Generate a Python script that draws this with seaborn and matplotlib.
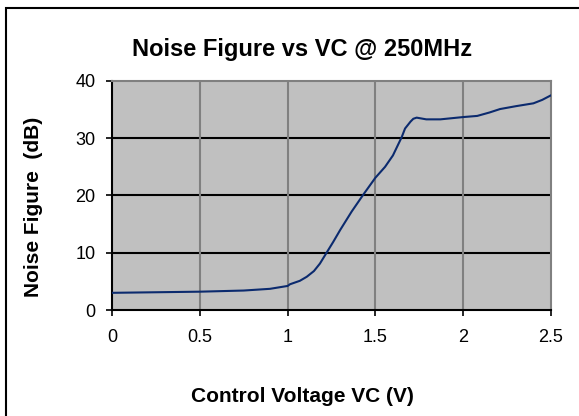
import matplotlib
matplotlib.use("Agg")
import matplotlib.pyplot as plt
import seaborn as sns
import pandas as pd
from matplotlib.patches import Rectangle

# Datos (VC en V, NF en dB)
vc = [0.0, 0.25, 0.5, 0.75, 0.9, 1.0, 1.014, 1.07, 1.109, 1.15, 1.184, 1.22,
      1.26, 1.30, 1.365, 1.43, 1.5, 1.555, 1.60, 1.65, 1.669, 1.70, 1.716,
      1.735, 1.79, 1.87, 2.0, 2.08, 2.15, 2.21, 2.3, 2.40, 2.45, 2.5]
nf = [3.0, 3.1, 3.2, 3.4, 3.7, 4.2, 4.5, 5.1, 5.8, 6.8, 8.1, 9.9,
      11.9, 14.0, 17.2, 20.1, 23.1, 25.0, 27.0, 30.2, 31.7, 32.9, 33.4,
      33.6, 33.3, 33.3, 33.7, 33.9, 34.5, 35.1, 35.6, 36.1, 36.7, 37.5]
x_ticks = [0, 0.5, 1, 1.5, 2, 2.5]
x_tick_labels = ["0", "0.5", "1", "1.5", "2", "2.5"]
y_ticks = [0, 10, 20, 30, 40]

sns.set_theme(style="white")
plt.rcParams["font.family"] = ["Liberation Sans", "DejaVu Sans"]
plt.rcParams["text.color"] = "black"
plt.rcParams["xtick.color"] = "black"
plt.rcParams["ytick.color"] = "black"

df = pd.DataFrame({"vc": vc, "nf": nf})

fig = plt.figure(figsize=(5.79, 4.16), dpi=100)
fig.patch.set_facecolor("white")
ax = fig.add_axes([0.1934, 0.2548, 0.7582, 0.5505])
ax.set_facecolor("#C0C0C0")

sns.lineplot(data=df, x="vc", y="nf", ax=ax, color="#0b2a6e", linewidth=1.5, zorder=5)

ax.set_xlim(0, 2.5)
ax.set_ylim(0, 40)
ax.set_xticks(x_ticks)
ax.set_xticklabels(x_tick_labels)
ax.set_yticks(y_ticks)

# rejilla: horizontales negras, verticales grises
for y in y_ticks[1:-1]:
    ax.axhline(y, color="black", linewidth=1.5, zorder=2)
for x in x_ticks[1:-1]:
    ax.axvline(x, color="#808080", linewidth=1.5, zorder=2)
ax.grid(False)

for side in ["left", "bottom"]:
    ax.spines[side].set_color("black")
    ax.spines[side].set_linewidth(1.5)
for side in ["top", "right"]:
    ax.spines[side].set_color("#808080")
    ax.spines[side].set_linewidth(1.5)

ax.tick_params(axis="both", direction="out", length=4, width=1.2, color="black",
               labelsize=13, labelcolor="black", left=True, bottom=True)
ax.tick_params(axis="x", pad=10)
ax.tick_params(axis="y", pad=8)
ax.set_xlabel("")
ax.set_ylabel("")

fig.text(0.5225, 0.88, "Noise Figure vs VC @ 250MHz", ha="center", va="center",
         fontsize=17, fontweight="bold", color="black")
fig.text(0.523, 0.046, "Control Voltage VC (V)", ha="center", va="center",
         fontsize=15, fontweight="bold", color="black")
fig.text(0.057, 0.502, "Noise Figure  (dB)", ha="center", va="center",
         rotation=90, fontsize=15, fontweight="bold", color="black")

# marco exterior (solo se ven los bordes izquierdo y superior)
fig.add_artist(Rectangle((0.0105, -0.2), 1.5, 1.1808, transform=fig.transFigure,
                         fill=False, edgecolor="black", linewidth=1.5))

fig.savefig("out.png", dpi=100)
